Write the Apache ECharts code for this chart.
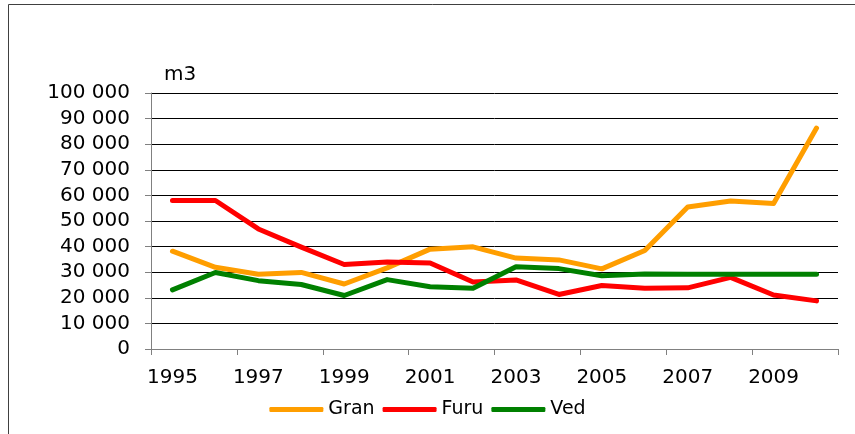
<!DOCTYPE html>
<html>
<head>
<meta charset="utf-8">
<script src="https://cdn.jsdelivr.net/npm/echarts@6/dist/echarts.min.js"></script>
<style>
  html, body { margin: 0; padding: 0; background: #fff; }
  #chart { width: 855px; height: 434px; }
</style>
</head>
<body>
<div id="chart"></div>
<script>
// years on the x axis
var years = ['1995', '1996', '1997', '1998', '1999', '2000', '2001', '2002',
             '2003', '2004', '2005', '2006', '2007', '2008', '2009', '2010'];
// values (m3)
var gran = [38200, 31900, 29200, 29900, 25400, 31700, 39000, 39900,
            35500, 34800, 31300, 38500, 55500, 57800, 56800, 86300];
var furu = [58000, 58000, 46900, 39800, 33000, 34000, 33600, 26200,
            27000, 21300, 24800, 23700, 23900, 28000, 21100, 18800];
var ved  = [23100, 29900, 26700, 25200, 20900, 27100, 24300, 23700,
            32100, 31400, 28600, 29300, 29200, 29200, 29200, 29200];

var chart = echarts.init(document.getElementById('chart'));
var font = 'DejaVu Sans, Verdana, sans-serif';

function lineSeries(name, data, color) {
  return {
    name: name,
    type: 'line',
    data: data,
    symbol: 'none',
    animation: false,
    lineStyle: { color: color, width: 5, cap: 'round', join: 'round' },
    itemStyle: { color: color }
  };
}

chart.setOption({
  animation: false,
  title: {
    text: 'm3',
    left: 159,
    top: 60,
    textStyle: { fontFamily: font, fontSize: 20, fontWeight: 'normal', color: '#000' }
  },
  graphic: [{
    type: 'rect',
    shape: { x: 8.5, y: 4.5, width: 900, height: 500 },
    style: { fill: 'none', stroke: '#404040', lineWidth: 1 },
    silent: true
  }],
  legend: {
    bottom: 10,
    left: 'center',
    itemWidth: 54,
    itemHeight: 5,
    itemGap: 8,
    icon: 'roundRect',
    textStyle: { fontFamily: font, fontSize: 19, color: '#000', padding: [0, 0, 0, 0] },
    data: ['Gran', 'Furu', 'Ved']
  },
  grid: { left: 151, right: 17, top: 93, bottom: 85 },
  xAxis: {
    type: 'category',
    data: years,
    boundaryGap: true,
    axisLine: { lineStyle: { color: '#808080', width: 1 } },
    axisTick: { show: true, length: 6, lineStyle: { color: '#808080' } },
    axisLabel: { interval: 1, margin: 19, fontFamily: font, fontSize: 20, color: '#000' }
  },
  yAxis: {
    type: 'value',
    min: 0,
    max: 100000,
    interval: 10000,
    axisLine: { show: true, lineStyle: { color: '#808080', width: 1 } },
    axisTick: { show: true, length: 6, lineStyle: { color: '#808080' } },
    splitLine: { lineStyle: { color: '#000', width: 1 } },
    axisLabel: {
      margin: 21,
      fontFamily: font,
      fontSize: 20,
      color: '#000',
      formatter: function (v) {
        return String(v).replace(/\B(?=(\d{3})+(?!\d))/g, ' ');
      }
    }
  },
  series: [
    lineSeries('Gran', gran, '#FF9E00'),
    lineSeries('Furu', furu, '#FF0000'),
    lineSeries('Ved', ved, '#008000')
  ]
});
</script>
</body>
</html>
